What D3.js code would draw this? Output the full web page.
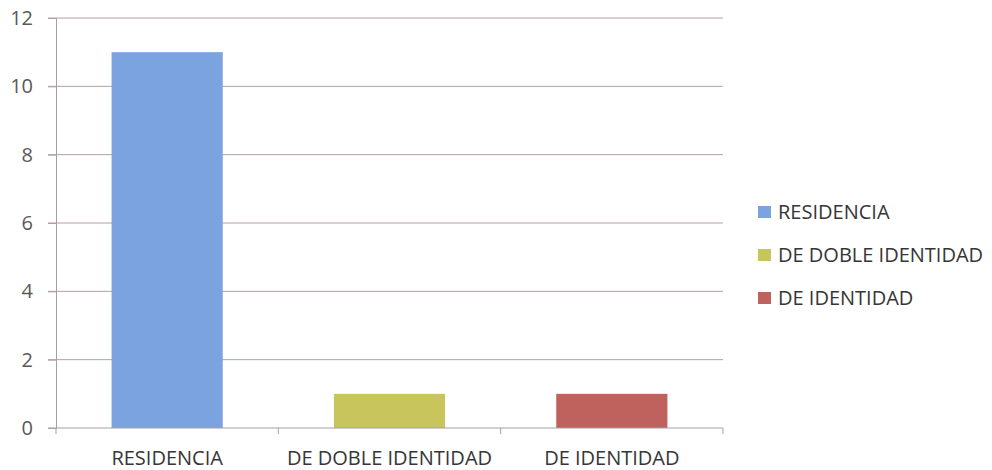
<!DOCTYPE html>
<html>
<head>
<meta charset="utf-8">
<script src="https://cdn.jsdelivr.net/npm/d3@7"></script>
<style>
  body { margin: 0; background: #fff; }
  text { font-family: "Open Sans", sans-serif; }
</style>
</head>
<body>
<svg id="chart" width="992" height="470"></svg>
<script>
const categories = ["RESIDENCIA", "DE DOBLE IDENTIDAD", "DE IDENTIDAD"];
const values = [11, 1, 1];
const colors = ["#7aa3df", "#c7c55c", "#bf615c"];
const yTicks = [0, 2, 4, 6, 8, 10, 12];

const svg = d3.select("#chart");
const plotLeft = 56, plotRight = 723, plotTop = 18, plotBottom = 428;

const x = d3.scaleBand().domain(categories).range([plotLeft, plotRight])
  .paddingInner(0.5).paddingOuter(0.25);
const y = d3.scaleLinear().domain([0, 12]).range([plotBottom, plotTop]);

// gridlines
svg.append("g")
  .selectAll("line")
  .data(yTicks.filter(d => d > 0))
  .join("line")
  .attr("x1", plotLeft - 8).attr("x2", plotRight)
  .attr("y1", d => y(d)).attr("y2", d => y(d))
  .attr("stroke", "#b49ea6").attr("stroke-width", 1);

// bars
svg.append("g")
  .selectAll("rect")
  .data(categories)
  .join("rect")
  .attr("x", d => x(d))
  .attr("width", x.bandwidth())
  .attr("y", (d, i) => y(values[i]))
  .attr("height", (d, i) => y(0) - y(values[i]))
  .attr("fill", (d, i) => colors[i]);

// y axis
const yAxis = svg.append("g")
  .attr("transform", `translate(${plotLeft},0)`)
  .call(d3.axisLeft(y).tickValues(yTicks).tickSize(8).tickPadding(15));
yAxis.select(".domain").attr("stroke", "#a69ea8");
yAxis.selectAll(".tick line").attr("stroke", "#b49ea6");
yAxis.selectAll("text").attr("font-size", 20).attr("fill", "#595959")
  .attr("font-family", "'Open Sans', sans-serif");

// x axis with boundary ticks
const xg = svg.append("g").attr("transform", `translate(0,${plotBottom})`);
xg.append("line").attr("x1", plotLeft - 8).attr("x2", plotRight)
  .attr("stroke", "#a69ea8");
const step = (plotRight - plotLeft) / categories.length;
xg.selectAll(".bt")
  .data(d3.range(categories.length + 1))
  .join("line")
  .attr("x1", i => plotLeft + i * step).attr("x2", i => plotLeft + i * step)
  .attr("y1", 0).attr("y2", 6)
  .attr("stroke", "#a69ea8");
xg.selectAll(".lbl")
  .data(categories)
  .join("text")
  .attr("x", d => x(d) + x.bandwidth() / 2)
  .attr("y", 37)
  .attr("text-anchor", "middle")
  .attr("font-size", 20)
  .attr("fill", "#363636")
  .text(d => d);

// legend
const lg = svg.append("g").attr("transform", "translate(758,212)");
const item = lg.selectAll("g")
  .data(categories)
  .join("g")
  .attr("transform", (d, i) => `translate(0,${i * 43})`);
item.append("rect")
  .attr("x", 0).attr("y", -6).attr("width", 13).attr("height", 12)
  .attr("fill", (d, i) => colors[i]);
item.append("text")
  .attr("x", 20).attr("y", 7)
  .attr("font-size", 20)
  .attr("fill", "#363636")
  .text(d => d);
</script>
</body>
</html>
